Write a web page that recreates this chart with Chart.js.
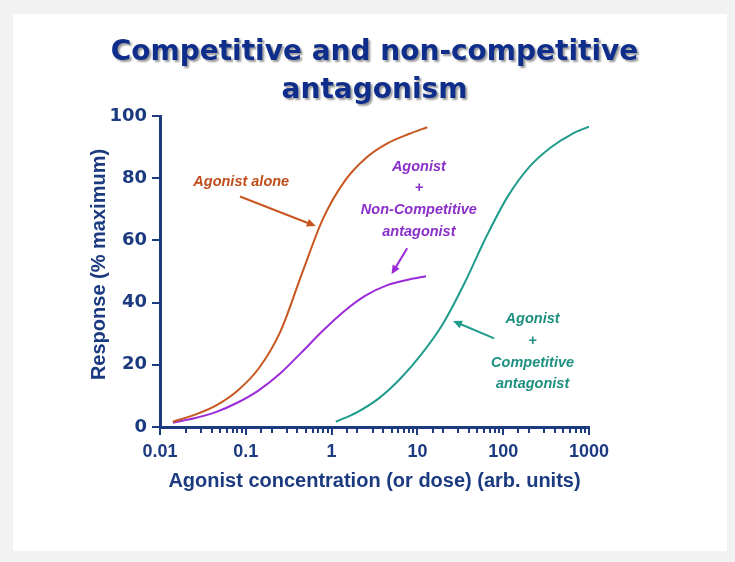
<!DOCTYPE html>
<html><head><meta charset="utf-8">
<script src="https://cdn.jsdelivr.net/npm/chart.js@4.4.1/dist/chart.umd.min.js"></script>
<style>
html,body{margin:0;padding:0;background:#f3f2f2;width:735px;height:562px;overflow:hidden}
#card{position:absolute;left:13px;top:14px;width:714px;height:537px;background:#fff}
#wrap{position:absolute;left:0;top:0;width:735px;height:562px}
</style></head><body>
<div id="card"></div>
<div id="wrap"><canvas id="c" width="735" height="562"></canvas></div>
<script>
// ---- data ----
const titleLines = ['Competitive and non-competitive', 'antagonism'];
const xAxisTitle = 'Agonist concentration (or dose) (arb. units)';
const yAxisTitle = 'Response (% maximum)';
const xTickValues = [0.01, 0.1, 1, 10, 100, 1000];
const xTickLabels = ['0.01', '0.1', '1', '10', '100', '1000'];
const yTickStep = 20;

const agonistX = [0.01413, 0.02512, 0.04467, 0.07943, 0.1413, 0.2512, 0.4467, 0.7943, 1.413, 2.512, 4.467, 7.943, 13.03];
const agonistY = [1.7, 3.9, 6.9, 11.6, 18.8, 30.5, 49.0, 67.0, 79.0, 86.5, 91.2, 94.2, 96.4];

const nonCompX = [0.01413, 0.02512, 0.04467, 0.07943, 0.1413, 0.2512, 0.4467, 0.7943, 1.413, 2.512, 4.467, 7.943, 12.59];
const nonCompY = [1.4, 2.8, 4.8, 7.8, 11.8, 17.2, 24.0, 31.0, 37.3, 42.3, 45.6, 47.4, 48.5];

const compX = [1.122, 1.995, 3.548, 6.310, 11.22, 19.95, 35.48, 63.10, 112.2, 199.5, 354.8, 631.0, 1000];
const compY = [1.7, 4.8, 9.2, 15.5, 23.5, 33.3, 46.3, 61.0, 74.0, 83.5, 89.8, 94.2, 96.6];

// annotation texts (anchored in data units)
const agonistLabel = ['Agonist alone'];
const nonCompLabel = ['Agonist', '+', 'Non-Competitive', 'antagonist'];
const compLabel = ['Agonist', '+', 'Competitive', 'antagonist'];
const labelAnchorsX = [0.0885, 10.4, 220];
const labelAnchorsY = [78.8, 83.7, 34.6];
// arrows: [fromX, fromY, toX, toY]
const arrowAgonist = [0.0855, 74.1, 0.655, 64.6];
const arrowNonComp = [7.6, 57.5, 4.99, 49.1];
const arrowComp = [78.5, 28.5, 26.0, 34.1];

// ---- styles ----
const navy = '#1b3a80';
const titleColor = '#0f2d8a';
const cOrange = '#c8561f';
const cOrangeText = '#c04e1c';
const cPurple = '#9b2bd8';
const cPurpleText = '#8a2fc8';
const cTeal = '#1f9c8c';
const cTealText = '#1e9080';

const toXY = (xs, ys) => xs.map((x, i) => ({x: x, y: ys[i]}));

function drawArrow(ctx, xs, ys, a, color) {
  const x1 = xs.getPixelForValue(a[0]), y1 = ys.getPixelForValue(a[1]);
  const x2 = xs.getPixelForValue(a[2]), y2 = ys.getPixelForValue(a[3]);
  const ang = Math.atan2(y2 - y1, x2 - x1);
  const hl = 9, hw = 4;
  ctx.save();
  ctx.strokeStyle = color; ctx.fillStyle = color; ctx.lineWidth = 2;
  ctx.beginPath();
  ctx.moveTo(x1, y1);
  ctx.lineTo(x2 - Math.cos(ang) * hl * 0.8, y2 - Math.sin(ang) * hl * 0.8);
  ctx.stroke();
  ctx.beginPath();
  ctx.moveTo(x2, y2);
  ctx.lineTo(x2 - Math.cos(ang) * hl + Math.sin(ang) * hw, y2 - Math.sin(ang) * hl - Math.cos(ang) * hw);
  ctx.lineTo(x2 - Math.cos(ang) * hl - Math.sin(ang) * hw, y2 - Math.sin(ang) * hl + Math.cos(ang) * hw);
  ctx.closePath();
  ctx.fill();
  ctx.restore();
}

function drawLabel(ctx, xs, ys, lines, vx, vy, color) {
  const x = xs.getPixelForValue(vx), y = ys.getPixelForValue(vy);
  ctx.save();
  ctx.fillStyle = color;
  ctx.font = 'italic bold 14.5px "Liberation Sans", Arial, sans-serif';
  ctx.textAlign = 'center';
  ctx.textBaseline = 'middle';
  lines.forEach((t, i) => ctx.fillText(t, x, y + i * 21.7));
  ctx.restore();
}

const overlay = {
  id: 'overlay',
  afterDraw(chart) {
    const ctx = chart.ctx;
    const xs = chart.scales.x, ys = chart.scales.y;
    const area = chart.chartArea;
    // tick marks
    ctx.save();
    ctx.strokeStyle = navy;
    ctx.lineWidth = 2;
    xs.ticks.forEach(t => {
      const lg = Math.log10(t.value);
      const major = Math.abs(lg - Math.round(lg)) < 1e-6;
      const px = Math.round(xs.getPixelForValue(t.value));
      ctx.beginPath();
      ctx.moveTo(px, area.bottom);
      ctx.lineTo(px, area.bottom + (major ? 8 : 6));
      ctx.stroke();
    });
    ys.ticks.forEach(t => {
      const py = Math.round(ys.getPixelForValue(t.value));
      ctx.beginPath();
      ctx.moveTo(area.left, py);
      ctx.lineTo(area.left - 8, py);
      ctx.stroke();
    });
    ctx.restore();

    // y axis title
    ctx.save();
    ctx.translate(99, (area.top + area.bottom) / 2 - 7);
    ctx.rotate(-Math.PI / 2);
    ctx.font = 'bold 20px "Liberation Sans", Arial, sans-serif';
    ctx.fillStyle = navy;
    ctx.textAlign = 'center';
    ctx.textBaseline = 'middle';
    ctx.fillText(yAxisTitle, 0, 0);
    ctx.restore();

    // annotations
    drawLabel(ctx, xs, ys, agonistLabel, labelAnchorsX[0], labelAnchorsY[0], cOrangeText);
    drawLabel(ctx, xs, ys, nonCompLabel, labelAnchorsX[1], labelAnchorsY[1], cPurpleText);
    drawLabel(ctx, xs, ys, compLabel, labelAnchorsX[2], labelAnchorsY[2], cTealText);
    drawArrow(ctx, xs, ys, arrowAgonist, cOrange);
    drawArrow(ctx, xs, ys, arrowNonComp, cPurple);
    drawArrow(ctx, xs, ys, arrowComp, cTeal);

    // title
    ctx.save();
    ctx.font = 'bold 28px "DejaVu Sans", Verdana, sans-serif';
    ctx.fillStyle = titleColor;
    ctx.textAlign = 'center';
    ctx.textBaseline = 'middle';
    ctx.shadowColor = 'rgba(0,0,0,0.4)';
    ctx.shadowOffsetX = 2; ctx.shadowOffsetY = 2; ctx.shadowBlur = 2;
    const cx = (area.left + area.right) / 2;
    ctx.fillText(titleLines[0], cx, 53);
    ctx.fillText(titleLines[1], cx, 91);
    ctx.restore();
  }
};

new Chart(document.getElementById('c'), {
  type: 'line',
  data: {
    datasets: [
      {data: toXY(agonistX, agonistY), borderColor: cOrange, borderWidth: 2, pointRadius: 0, cubicInterpolationMode: 'monotone', fill: false},
      {data: toXY(nonCompX, nonCompY), borderColor: cPurple, borderWidth: 2, pointRadius: 0, cubicInterpolationMode: 'monotone', fill: false},
      {data: toXY(compX, compY), borderColor: cTeal, borderWidth: 2, pointRadius: 0, cubicInterpolationMode: 'monotone', fill: false}
    ]
  },
  options: {
    responsive: false,
    animation: false,
    devicePixelRatio: 1,
    layout: {padding: {left: 0, top: 116, right: 146, bottom: 60}},
    plugins: {legend: {display: false}, title: {display: false}, tooltip: {enabled: false}},
    scales: {
      x: {
        type: 'logarithmic',
        min: xTickValues[0], max: xTickValues[xTickValues.length - 1],
        border: {color: navy, width: 3},
        grid: {display: false, drawTicks: false},
        ticks: {
          autoSkip: false, maxRotation: 0, minRotation: 0, padding: 14,
          color: navy,
          font: {family: '"Liberation Sans", Arial, sans-serif', weight: 'bold', size: 18},
          callback: (v) => {
            const i = xTickValues.findIndex(t => Math.abs(Math.log10(t) - Math.log10(v)) < 1e-6);
            return i >= 0 ? xTickLabels[i] : '';
          }
        },
        title: {display: true, text: xAxisTitle, color: navy,
          font: {family: '"Liberation Sans", Arial, sans-serif', weight: 'bold', size: 20},
          padding: {top: 0, bottom: 9}},
        afterFit: (s) => { s.height = 75; }
      },
      y: {
        type: 'linear', min: 0, max: 100,
        border: {color: navy, width: 3},
        grid: {display: false, drawTicks: false},
        ticks: {stepSize: yTickStep, padding: 13, color: navy,
          font: {family: '"DejaVu Sans", Verdana, sans-serif', weight: 'bold', size: 18}},
        title: {display: false},
        afterFit: (s) => { s.width = 160; }
      }
    }
  },
  plugins: [overlay]
});
</script>
</body></html>
